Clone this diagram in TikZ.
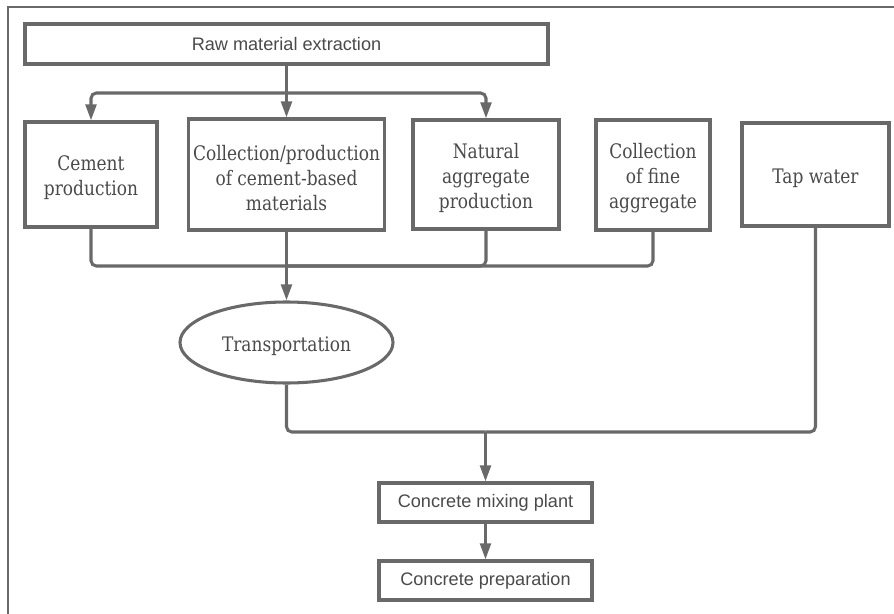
\documentclass[tikz,border=0pt]{standalone}
\usepackage{fontspec}
\setmainfont{DejaVu Serif}[FakeStretch=0.85]
\newfontfamily\plainsans{Liberation Sans}
\usetikzlibrary{arrows.meta,shapes.geometric}
\definecolor{linegray}{HTML}{696969}
\definecolor{textgray}{HTML}{4a4a4a}
\newcommand\mytopstrut{\rule{0pt}{16pt}}
\begin{document}
\begin{tikzpicture}[x=0.75pt,y=-0.75pt,
  box/.style={draw=linegray,line width=2.3pt,fill=white,rectangle,inner sep=2pt,align=center,text=textgray},
  serifbox/.style={box,font=\fontsize{15}{18.75}\selectfont},
  sansbox/.style={box,font=\plainsans\fontsize{13.6}{16}\selectfont},
  ovalbox/.style={serifbox,ellipse},
  conn/.style={draw=linegray,line width=2.3pt,rounded corners=4pt},
  arr/.style={conn,-{Triangle[length=12pt,width=8pt]}},
  frameline/.style={draw=linegray,line width=1.5pt}]
\useasboundingbox (0,0) rectangle (894,614);
\fill[white] (0,0) rectangle (894,614);
\draw[frameline] (8,614) -- (8,7) -- (894,7);

\node[sansbox,minimum width=392.25pt,minimum height=30pt] (raw) at (286.5,44) {Raw material extraction};
\node[serifbox,minimum width=99pt,minimum height=78.75pt] (cem) at (91,174.5) {\mytopstrut Cement\\production};
\node[serifbox,minimum width=147pt,minimum height=83.25pt] (col) at (286.5,174.5) {\mytopstrut Collection/production\\of cement-based\\materials};
\node[serifbox,minimum width=109.5pt,minimum height=81.75pt] (nat) at (486,174.5) {\mytopstrut Natural\\aggregate\\production};
\node[serifbox,minimum width=85.5pt,minimum height=82.5pt] (fine) at (653,175) {\mytopstrut Collection\\of fine\\aggregate};
\node[serifbox,minimum width=110.25pt,minimum height=77.25pt] (tap) at (815.5,174.5) {\mytopstrut Tap water};
\node[ovalbox,minimum width=159.75pt,minimum height=60.75pt] (trans) at (286.5,342.5) {\mytopstrut Transportation};
\node[sansbox,minimum width=159.75pt,minimum height=29.25pt] (mix) at (485.5,502.5) {Concrete mixing plant};
\node[sansbox,minimum width=159.75pt,minimum height=29.25pt] (prep) at (485.5,580.5) {Concrete preparation};

\coordinate (tb) at (286.5,93);
\coordinate (bb) at (286.5,266);
\coordinate (mb) at (485.5,432);

\draw[conn] (raw.south) -- (tb);
\draw[arr] (tb) -| (cem.north);
\draw[arr] (tb) -- (col.north);
\draw[arr] (tb) -| (nat.north);

\draw[conn] (cem.south) |- (bb);
\draw[conn] (nat.south) |- (bb);
\draw[conn] (fine.south) |- (bb);
\draw[arr] (col.south) -- (trans.north);

\draw[conn] (trans.south) |- (mb);
\draw[conn] (tap.south) |- (mb);
\draw[arr] (mb) -- (mix.north);
\draw[arr] (mix.south) -- (prep.north);
\end{tikzpicture}
\end{document}
